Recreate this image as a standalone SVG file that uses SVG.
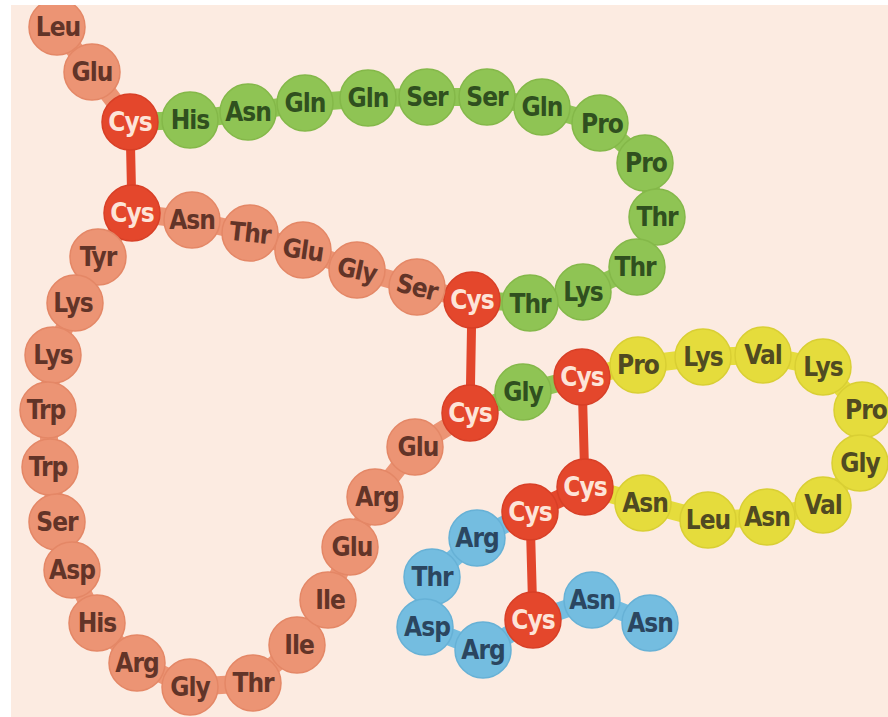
<svg xmlns="http://www.w3.org/2000/svg" width="888" height="717" viewBox="0 0 888 717">
  <style>
    .bb { fill: none; stroke-width: 18; stroke-linecap: round; stroke-linejoin: round; }
    .ss { fill: none; stroke: #e2462c; stroke-width: 9; stroke-linecap: round; }
    .res circle { r: 28px; stroke-width: 1.5; }
    .o circle { fill: #ec9474; stroke: #e48766; }
    .r circle { fill: #e4472c; stroke: #d83f26; }
    .g circle { fill: #8fc454; stroke: #84b849; }
    .y circle { fill: #e5dc3c; stroke: #d9cf33; }
    .b circle { fill: #74bde0; stroke: #66b1d6; }
    text { font-family: "DejaVu Sans Condensed", "DejaVu Sans", "Liberation Sans", sans-serif; font-weight: bold; font-size: 26px; letter-spacing: -1px; text-anchor: middle; }
    .o text { fill: #623428; }
    .r text { fill: #fde4d8; }
    .g text { fill: #30501f; }
    .y text { fill: #504a22; }
    .b text { fill: #2b4660; }
  </style>

  <!-- paper -->
  <rect width="888" height="717" fill="#fcebe1"/>

  <!-- backbone links and disulfide bridges -->
  <g id="connectors">
    <polyline class="bb" stroke="#ec9474" points="57,27 92,72 130,122"/>
    <polyline class="bb" stroke="#8fc454" points="130,122 190,120 248,112 305,103 368,98 427,97 487,97 542,107 600,123 645,163 657,217 637,267 583,292 530,303 472,300"/>
    <polyline class="bb" stroke="#ec9474" points="472,300 417,287 357,270 303,250 250,233 192,220 132,213 98,257 75,303 53,355 48,410 50,467 57,522 72,570 97,623 137,663 190,687 253,683 297,645 328,600 350,547 375,497 415,447 470,413"/>
    <polyline class="bb" stroke="#8fc454" points="470,413 523,392 582,377"/>
    <polyline class="bb" stroke="#e5dc3c" points="582,377 638,365 703,357 763,355 823,367 862,410 860,463 823,505 767,517 708,520 643,503 585,487"/>
    <polyline class="bb" stroke="#e4472c" points="585,487 530,512"/>
    <polyline class="bb" stroke="#74bde0" points="530,512 477,538 432,577 425,627 483,650 533,620 592,600 650,623"/>
    <line class="ss" x1="130" y1="122" x2="132" y2="213"/>
    <line class="ss" x1="472" y1="300" x2="470" y2="413"/>
    <line class="ss" x1="582" y1="377" x2="585" y2="487"/>
    <line class="ss" x1="530" y1="512" x2="533" y2="620"/>
  </g>

  <!-- residues -->
  <g id="leu1" class="res o"><circle cx="57" cy="27" r="28"/><text x="58" y="36">Leu</text></g>
  <g id="glu2" class="res o"><circle cx="92" cy="72" r="28"/><text x="92" y="81">Glu</text></g>
  <g id="cys3" class="res r"><circle cx="130" cy="122" r="28"/><text x="130" y="131">Cys</text></g>
  <g id="his4" class="res g"><circle cx="190" cy="120" r="28"/><text x="190" y="129">His</text></g>
  <g id="asn5" class="res g"><circle cx="248" cy="112" r="28"/><text x="248" y="121">Asn</text></g>
  <g id="gln6" class="res g"><circle cx="305" cy="103" r="28"/><text x="305" y="112">Gln</text></g>
  <g id="gln7" class="res g"><circle cx="368" cy="98" r="28"/><text x="368" y="107">Gln</text></g>
  <g id="ser8" class="res g"><circle cx="427" cy="97" r="28"/><text x="427" y="106">Ser</text></g>
  <g id="ser9" class="res g"><circle cx="487" cy="97" r="28"/><text x="487" y="106">Ser</text></g>
  <g id="gln10" class="res g"><circle cx="542" cy="107" r="28"/><text x="542" y="116">Gln</text></g>
  <g id="pro11" class="res g"><circle cx="600" cy="123" r="28"/><text x="602" y="133">Pro</text></g>
  <g id="pro12" class="res g"><circle cx="645" cy="163" r="28"/><text x="646" y="172">Pro</text></g>
  <g id="thr13" class="res g"><circle cx="657" cy="217" r="28"/><text x="657" y="226">Thr</text></g>
  <g id="thr14" class="res g"><circle cx="637" cy="267" r="28"/><text x="635" y="276">Thr</text></g>
  <g id="lys15" class="res g"><circle cx="583" cy="292" r="28"/><text x="583" y="301">Lys</text></g>
  <g id="thr16" class="res g"><circle cx="530" cy="303" r="28"/><text x="530" y="313">Thr</text></g>
  <g id="cys17" class="res r"><circle cx="472" cy="300" r="28"/><text x="472" y="309">Cys</text></g>
  <g id="ser18" class="res o"><circle cx="417" cy="287" r="28"/><text x="417" y="296" transform="rotate(14 417 287)">Ser</text></g>
  <g id="gly19" class="res o"><circle cx="357" cy="270" r="28"/><text x="357" y="279" transform="rotate(12 357 270)">Gly</text></g>
  <g id="glu20" class="res o"><circle cx="303" cy="250" r="28"/><text x="303" y="259" transform="rotate(8 303 250)">Glu</text></g>
  <g id="thr21" class="res o"><circle cx="250" cy="233" r="28"/><text x="250" y="242" transform="rotate(6 250 233)">Thr</text></g>
  <g id="asn22" class="res o"><circle cx="192" cy="220" r="28"/><text x="192" y="229">Asn</text></g>
  <g id="cys23" class="res r"><circle cx="132" cy="213" r="28"/><text x="132" y="222">Cys</text></g>
  <g id="tyr24" class="res o"><circle cx="98" cy="257" r="28"/><text x="98" y="266">Tyr</text></g>
  <g id="lys25" class="res o"><circle cx="75" cy="303" r="28"/><text x="73" y="312">Lys</text></g>
  <g id="lys26" class="res o"><circle cx="53" cy="355" r="28"/><text x="53" y="364">Lys</text></g>
  <g id="trp27" class="res o"><circle cx="48" cy="410" r="28"/><text x="46" y="419">Trp</text></g>
  <g id="trp28" class="res o"><circle cx="50" cy="467" r="28"/><text x="48" y="476">Trp</text></g>
  <g id="ser29" class="res o"><circle cx="57" cy="522" r="28"/><text x="57" y="531">Ser</text></g>
  <g id="asp30" class="res o"><circle cx="72" cy="570" r="28"/><text x="72" y="579">Asp</text></g>
  <g id="his31" class="res o"><circle cx="97" cy="623" r="28"/><text x="97" y="632">His</text></g>
  <g id="arg32" class="res o"><circle cx="137" cy="663" r="28"/><text x="137" y="672">Arg</text></g>
  <g id="gly33" class="res o"><circle cx="190" cy="687" r="28"/><text x="190" y="696">Gly</text></g>
  <g id="thr34" class="res o"><circle cx="253" cy="683" r="28"/><text x="253" y="692">Thr</text></g>
  <g id="ile35" class="res o"><circle cx="297" cy="645" r="28"/><text x="299" y="654">Ile</text></g>
  <g id="ile36" class="res o"><circle cx="328" cy="600" r="28"/><text x="330" y="609">Ile</text></g>
  <g id="glu37" class="res o"><circle cx="350" cy="547" r="28"/><text x="352" y="556">Glu</text></g>
  <g id="arg38" class="res o"><circle cx="375" cy="497" r="28"/><text x="377" y="506">Arg</text></g>
  <g id="glu39" class="res o"><circle cx="415" cy="447" r="28"/><text x="418" y="456">Glu</text></g>
  <g id="cys40" class="res r"><circle cx="470" cy="413" r="28"/><text x="470" y="422">Cys</text></g>
  <g id="gly41" class="res g"><circle cx="523" cy="392" r="28"/><text x="523" y="401">Gly</text></g>
  <g id="cys42" class="res r"><circle cx="582" cy="377" r="28"/><text x="582" y="386">Cys</text></g>
  <g id="pro43" class="res y"><circle cx="638" cy="365" r="28"/><text x="638" y="374">Pro</text></g>
  <g id="lys44" class="res y"><circle cx="703" cy="357" r="28"/><text x="703" y="366">Lys</text></g>
  <g id="val45" class="res y"><circle cx="763" cy="355" r="28"/><text x="763" y="364">Val</text></g>
  <g id="lys46" class="res y"><circle cx="823" cy="367" r="28"/><text x="823" y="376">Lys</text></g>
  <g id="pro47" class="res y"><circle cx="862" cy="410" r="28"/><text x="866" y="419">Pro</text></g>
  <g id="gly48" class="res y"><circle cx="860" cy="463" r="28"/><text x="860" y="472">Gly</text></g>
  <g id="val49" class="res y"><circle cx="823" cy="505" r="28"/><text x="823" y="514">Val</text></g>
  <g id="asn50" class="res y"><circle cx="767" cy="517" r="28"/><text x="767" y="526">Asn</text></g>
  <g id="leu51" class="res y"><circle cx="708" cy="520" r="28"/><text x="708" y="529">Leu</text></g>
  <g id="asn52" class="res y"><circle cx="643" cy="503" r="28"/><text x="645" y="512">Asn</text></g>
  <g id="cys53" class="res r"><circle cx="585" cy="487" r="28"/><text x="585" y="496">Cys</text></g>
  <g id="cys54" class="res r"><circle cx="530" cy="512" r="28"/><text x="530" y="521">Cys</text></g>
  <g id="arg55" class="res b"><circle cx="477" cy="538" r="28"/><text x="477" y="547">Arg</text></g>
  <g id="thr56" class="res b"><circle cx="432" cy="577" r="28"/><text x="432" y="586">Thr</text></g>
  <g id="asp57" class="res b"><circle cx="425" cy="627" r="28"/><text x="427" y="636">Asp</text></g>
  <g id="arg58" class="res b"><circle cx="483" cy="650" r="28"/><text x="483" y="659">Arg</text></g>
  <g id="cys59" class="res r"><circle cx="533" cy="620" r="28"/><text x="533" y="629">Cys</text></g>
  <g id="asn60" class="res b"><circle cx="592" cy="600" r="28"/><text x="592" y="609">Asn</text></g>
  <g id="asn61" class="res b"><circle cx="650" cy="623" r="28"/><text x="650" y="632">Asn</text></g>

  <!-- white margin along top and left edges -->
  <rect x="0" y="0" width="888" height="5" fill="#ffffff"/>
  <rect x="0" y="0" width="11" height="717" fill="#ffffff"/>
</svg>
